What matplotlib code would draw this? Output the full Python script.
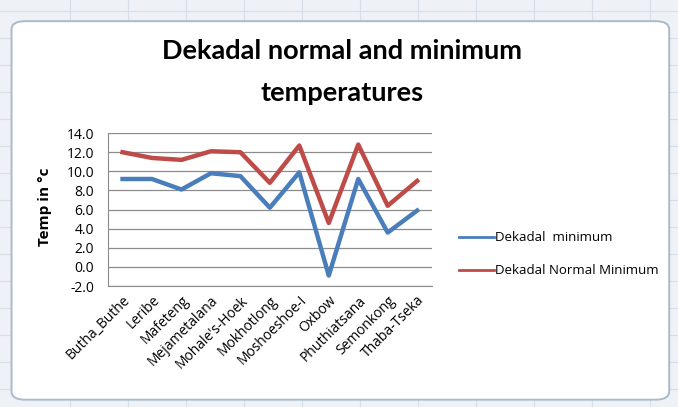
import matplotlib.pyplot as plt
from matplotlib.patches import FancyBboxPatch
from matplotlib.lines import Line2D

stations = ['Butha_Buthe', 'Leribe', 'Mafeteng', 'Mejametalana', "Mohale's-Hoek",
            'Mokhotlong', 'Moshoeshoe-I', 'Oxbow', 'Phuthiatsana', 'Semonkong', 'Thaba-Tseka']
dekadal_min = [9.2, 9.2, 8.1, 9.8, 9.5, 6.2, 9.9, -0.9, 9.2, 3.6, 5.9]
normal_min = [12.0, 11.4, 11.2, 12.1, 12.0, 8.8, 12.7, 4.6, 12.8, 6.4, 9.0]
yticks = [-2, 0, 2, 4, 6, 8, 10, 12, 14]

plt.rcParams['font.family'] = ['Open Sans', 'DejaVu Sans']

fig = plt.figure(figsize=(6.78, 4.07), dpi=100)
fig.patch.set_facecolor('#eef2f6')

# faint spreadsheet cell lines behind the chart box
for gx in range(70, 678, 58):
    fig.lines.append(Line2D([gx / 678, gx / 678], [0, 1], transform=fig.transFigure,
                            color='#d6dee7', lw=0.8, zorder=-20))
for gy in range(18, 407, 27):
    fig.lines.append(Line2D([0, 1], [gy / 407, gy / 407], transform=fig.transFigure,
                            color='#d6dee7', lw=0.8, zorder=-20))

# chart box behind everything
box = FancyBboxPatch((0.017, 0.018), 0.97, 0.93, boxstyle='round,pad=0,rounding_size=0.02',
                     transform=fig.transFigure, facecolor='white', edgecolor='#a9bacb',
                     lw=1.4, zorder=-10)
fig.patches.append(box)

ax = fig.add_axes([0.159, 0.297, 0.478, 0.376])
ax.set_facecolor('white')
x = list(range(len(stations)))
ax.plot(x, dekadal_min, color='#4A7EBB', lw=3.2, label='Dekadal  minimum')
ax.plot(x, normal_min, color='#BE4B48', lw=3.2, label='Dekadal Normal Minimum')

ax.set_xlim(-0.5, len(stations) - 0.5)
ax.set_ylim(-2, 14)
ax.set_yticks(yticks)
ax.set_yticklabels([f'{v:.1f}' for v in yticks], fontsize=10)
ax.set_xticks(x)
ax.set_xticklabels(stations, rotation=45, ha='right', rotation_mode='anchor', fontsize=10)
ax.tick_params(axis='y', length=0, pad=10)
ax.tick_params(axis='x', length=0, pad=5)
ax.yaxis.grid(True, color='#8c8c8c', lw=0.9)
ax.set_axisbelow(True)
for s in ['top', 'right']:
    ax.spines[s].set_visible(False)
for s in ['left', 'bottom']:
    ax.spines[s].set_color('#8c8c8c')

fig.text(45 / 678, 1 - 207 / 407, 'Temp in °c', rotation=90, ha='center', va='center',
         fontsize=11, fontweight='bold')

fig.text(0.505, 0.875, 'Dekadal normal and minimum', ha='center', va='center',
         fontsize=19.5, fontweight='bold', family=['Lato', 'DejaVu Sans'])
fig.text(0.505, 0.772, 'temperatures', ha='center', va='center',
         fontsize=19.5, fontweight='bold', family=['Lato', 'DejaVu Sans'])

leg = fig.legend(loc='center left', bbox_to_anchor=(0.66, 0.375), frameon=False,
                 fontsize=9.5, handlelength=2.6, handletextpad=0.1, labelspacing=1.5)
for line in leg.get_lines():
    line.set_linewidth(2)

fig.savefig('out.png', dpi=100)
